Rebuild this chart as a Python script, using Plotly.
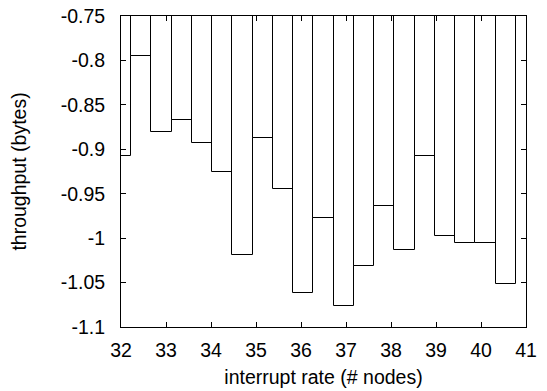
import plotly.graph_objects as go

x_vals = [32.0, 32.45, 32.9, 33.35, 33.8, 34.25, 34.7, 35.15, 35.6, 36.05,
          36.5, 36.95, 37.4, 37.85, 38.3, 38.75, 39.2, 39.65, 40.1, 40.55]
throughput = [-0.907, -0.795, -0.881, -0.867, -0.893, -0.925, -1.019, -0.887, -0.945, -1.062,
              -0.977, -1.076, -1.031, -0.964, -1.013, -0.908, -0.998, -1.005, -1.006, -1.052]
x_ticks = [32, 33, 34, 35, 36, 37, 38, 39, 40, 41]
y_ticks = [-1.1, -1.05, -1.0, -0.95, -0.9, -0.85, -0.8, -0.75]
y_tick_text = ["-1.1", "-1.05", "-1", "-0.95", "-0.9", "-0.85", "-0.8", "-0.75"]

font = dict(family="Liberation Sans, Arial, sans-serif", size=19.5, color="black")

fig = go.Figure(go.Bar(
    x=x_vals, y=throughput, width=0.45,
    marker=dict(color="white", line=dict(color="black", width=1)),
    showlegend=False, hoverinfo="skip",
))

fig.update_layout(
    width=547, height=391,
    margin=dict(l=121, r=21, t=16, b=64, autoexpand=False),
    paper_bgcolor="white", plot_bgcolor="white",
    font=font,
    bargap=0,
)
fig.update_xaxes(
    range=[32, 41], tickvals=x_ticks, ticks="inside", ticklen=5, tickcolor="black",
    showline=True, linecolor="black", linewidth=1, mirror="ticks",
    showgrid=False, zeroline=False, automargin=False,
    ticklabelstandoff=6, ticklabeloverflow="allow",
    title=dict(text="interrupt rate (# nodes)", standoff=9, font=font),
    tickfont=font,
)
fig.update_yaxes(
    range=[-1.1, -0.75], tickvals=y_ticks, ticktext=y_tick_text,
    ticks="inside", ticklen=5, tickcolor="black",
    showline=True, linecolor="black", linewidth=1, mirror="ticks",
    showgrid=False, zeroline=False, automargin=False,
    ticklabelstandoff=11, ticklabeloverflow="allow",
    title=dict(text="throughput (bytes)", standoff=28, font=font),
    tickfont=font,
)

# remove the default 8px page margin so the figure fills the window exactly
fig.write_html("out.html", config={"displayModeBar": False},
               post_script="document.body.style.margin='0';")
